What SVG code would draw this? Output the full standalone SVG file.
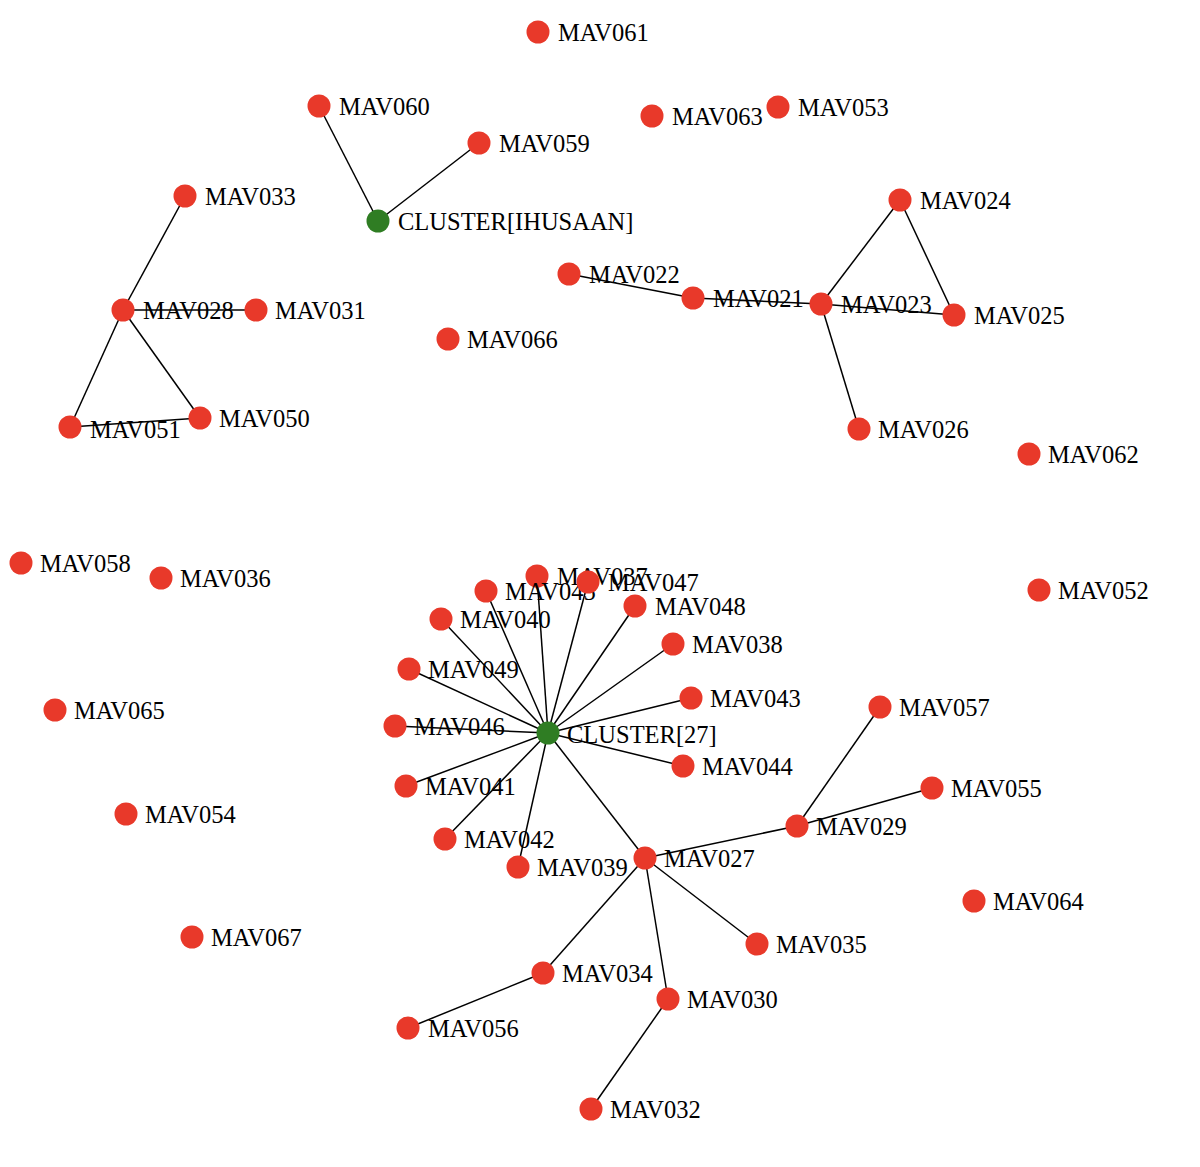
<svg xmlns="http://www.w3.org/2000/svg" width="1200" height="1167" viewBox="0 0 1200 1167">
<style>
.e{stroke:#000;stroke-width:1.5;fill:none}
.n{fill:#E8392A}
.g{fill:#2F7D23}
text{font-family:"Liberation Serif","Times New Roman",serif;font-size:24.5px;fill:#000}
</style>
<rect width="1200" height="1167" fill="#fff"/>
<g id="edges">
<line class="e" x1="378" y1="221" x2="319" y2="106"/>
<line class="e" x1="378" y1="221" x2="479" y2="143"/>
<line class="e" x1="123" y1="310" x2="185" y2="196"/>
<line class="e" x1="123" y1="310" x2="256" y2="310"/>
<line class="e" x1="123" y1="310" x2="70" y2="427"/>
<line class="e" x1="123" y1="310" x2="200" y2="418"/>
<line class="e" x1="70" y1="427" x2="200" y2="418"/>
<line class="e" x1="569" y1="274" x2="693" y2="298"/>
<line class="e" x1="693" y1="298" x2="821" y2="304"/>
<line class="e" x1="821" y1="304" x2="900" y2="200"/>
<line class="e" x1="821" y1="304" x2="954" y2="315"/>
<line class="e" x1="900" y1="200" x2="954" y2="315"/>
<line class="e" x1="821" y1="304" x2="859" y2="429"/>
<line class="e" x1="548" y1="733" x2="537" y2="576"/>
<line class="e" x1="548" y1="733" x2="486" y2="591"/>
<line class="e" x1="548" y1="733" x2="588" y2="582"/>
<line class="e" x1="548" y1="733" x2="635" y2="606"/>
<line class="e" x1="548" y1="733" x2="441" y2="619"/>
<line class="e" x1="548" y1="733" x2="673" y2="644"/>
<line class="e" x1="548" y1="733" x2="409" y2="669"/>
<line class="e" x1="548" y1="733" x2="691" y2="698"/>
<line class="e" x1="548" y1="733" x2="395" y2="726"/>
<line class="e" x1="548" y1="733" x2="683" y2="766"/>
<line class="e" x1="548" y1="733" x2="406" y2="786"/>
<line class="e" x1="548" y1="733" x2="445" y2="839"/>
<line class="e" x1="548" y1="733" x2="518" y2="867"/>
<line class="e" x1="548" y1="733" x2="645" y2="858"/>
<line class="e" x1="645" y1="858" x2="797" y2="826"/>
<line class="e" x1="797" y1="826" x2="880" y2="707"/>
<line class="e" x1="797" y1="826" x2="932" y2="788"/>
<line class="e" x1="645" y1="858" x2="757" y2="944"/>
<line class="e" x1="645" y1="858" x2="543" y2="973"/>
<line class="e" x1="645" y1="858" x2="668" y2="999"/>
<line class="e" x1="543" y1="973" x2="408" y2="1028"/>
<line class="e" x1="668" y1="999" x2="591" y2="1109"/>
</g>
<g id="MAV061"><circle class="n" cx="538" cy="32" r="11.5"/><text x="558" y="41">MAV061</text></g>
<g id="MAV060"><circle class="n" cx="319" cy="106" r="11.5"/><text x="339" y="115">MAV060</text></g>
<g id="MAV059"><circle class="n" cx="479" cy="143" r="11.5"/><text x="499" y="152">MAV059</text></g>
<g id="MAV063"><circle class="n" cx="652" cy="116" r="11.5"/><text x="672" y="125">MAV063</text></g>
<g id="MAV053"><circle class="n" cx="778" cy="107" r="11.5"/><text x="798" y="116">MAV053</text></g>
<g id="MAV033"><circle class="n" cx="185" cy="196" r="11.5"/><text x="205" y="205">MAV033</text></g>
<g id="CLUSTER_IHUSAAN"><circle class="g" cx="378" cy="221" r="11.5"/><text x="398" y="230">CLUSTER[IHUSAAN]</text></g>
<g id="MAV024"><circle class="n" cx="900" cy="200" r="11.5"/><text x="920" y="209">MAV024</text></g>
<g id="MAV022"><circle class="n" cx="569" cy="274" r="11.5"/><text x="589" y="283">MAV022</text></g>
<g id="MAV021"><circle class="n" cx="693" cy="298" r="11.5"/><text x="713" y="307">MAV021</text></g>
<g id="MAV023"><circle class="n" cx="821" cy="304" r="11.5"/><text x="841" y="313">MAV023</text></g>
<g id="MAV025"><circle class="n" cx="954" cy="315" r="11.5"/><text x="974" y="324">MAV025</text></g>
<g id="MAV028"><circle class="n" cx="123" cy="310" r="11.5"/><text x="143" y="319">MAV028</text></g>
<g id="MAV031"><circle class="n" cx="256" cy="310" r="11.5"/><text x="275" y="319">MAV031</text></g>
<g id="MAV066"><circle class="n" cx="448" cy="339" r="11.5"/><text x="467" y="348">MAV066</text></g>
<g id="MAV050"><circle class="n" cx="200" cy="418" r="11.5"/><text x="219" y="427">MAV050</text></g>
<g id="MAV051"><circle class="n" cx="70" cy="427" r="11.5"/><text x="90" y="438">MAV051</text></g>
<g id="MAV026"><circle class="n" cx="859" cy="429" r="11.5"/><text x="878" y="438">MAV026</text></g>
<g id="MAV062"><circle class="n" cx="1029" cy="454" r="11.5"/><text x="1048" y="463">MAV062</text></g>
<g id="MAV058"><circle class="n" cx="21" cy="563" r="11.5"/><text x="40" y="572">MAV058</text></g>
<g id="MAV036"><circle class="n" cx="161" cy="578" r="11.5"/><text x="180" y="587">MAV036</text></g>
<g id="MAV052"><circle class="n" cx="1039" cy="590" r="11.5"/><text x="1058" y="599">MAV052</text></g>
<g id="MAV037"><circle class="n" cx="537" cy="576" r="11.5"/><text x="557" y="585">MAV037</text></g>
<g id="MAV045"><circle class="n" cx="486" cy="591" r="11.5"/><text x="505" y="600">MAV045</text></g>
<g id="MAV047"><circle class="n" cx="588" cy="582" r="11.5"/><text x="608" y="591">MAV047</text></g>
<g id="MAV048"><circle class="n" cx="635" cy="606" r="11.5"/><text x="655" y="615">MAV048</text></g>
<g id="MAV040"><circle class="n" cx="441" cy="619" r="11.5"/><text x="460" y="628">MAV040</text></g>
<g id="MAV038"><circle class="n" cx="673" cy="644" r="11.5"/><text x="692" y="653">MAV038</text></g>
<g id="MAV049"><circle class="n" cx="409" cy="669" r="11.5"/><text x="428" y="678">MAV049</text></g>
<g id="MAV043"><circle class="n" cx="691" cy="698" r="11.5"/><text x="710" y="707">MAV043</text></g>
<g id="MAV065"><circle class="n" cx="55" cy="710" r="11.5"/><text x="74" y="719">MAV065</text></g>
<g id="MAV046"><circle class="n" cx="395" cy="726" r="11.5"/><text x="414" y="735">MAV046</text></g>
<g id="CLUSTER_27"><circle class="g" cx="548" cy="733" r="11.5"/><text x="567" y="743">CLUSTER[27]</text></g>
<g id="MAV057"><circle class="n" cx="880" cy="707" r="11.5"/><text x="899" y="716">MAV057</text></g>
<g id="MAV044"><circle class="n" cx="683" cy="766" r="11.5"/><text x="702" y="775">MAV044</text></g>
<g id="MAV041"><circle class="n" cx="406" cy="786" r="11.5"/><text x="425" y="795">MAV041</text></g>
<g id="MAV055"><circle class="n" cx="932" cy="788" r="11.5"/><text x="951" y="797">MAV055</text></g>
<g id="MAV054"><circle class="n" cx="126" cy="814" r="11.5"/><text x="145" y="823">MAV054</text></g>
<g id="MAV029"><circle class="n" cx="797" cy="826" r="11.5"/><text x="816" y="835">MAV029</text></g>
<g id="MAV042"><circle class="n" cx="445" cy="839" r="11.5"/><text x="464" y="848">MAV042</text></g>
<g id="MAV027"><circle class="n" cx="645" cy="858" r="11.5"/><text x="664" y="867">MAV027</text></g>
<g id="MAV039"><circle class="n" cx="518" cy="867" r="11.5"/><text x="537" y="876">MAV039</text></g>
<g id="MAV064"><circle class="n" cx="974" cy="901" r="11.5"/><text x="993" y="910">MAV064</text></g>
<g id="MAV067"><circle class="n" cx="192" cy="937" r="11.5"/><text x="211" y="946">MAV067</text></g>
<g id="MAV035"><circle class="n" cx="757" cy="944" r="11.5"/><text x="776" y="953">MAV035</text></g>
<g id="MAV034"><circle class="n" cx="543" cy="973" r="11.5"/><text x="562" y="982">MAV034</text></g>
<g id="MAV030"><circle class="n" cx="668" cy="999" r="11.5"/><text x="687" y="1008">MAV030</text></g>
<g id="MAV056"><circle class="n" cx="408" cy="1028" r="11.5"/><text x="428" y="1037">MAV056</text></g>
<g id="MAV032"><circle class="n" cx="591" cy="1109" r="11.5"/><text x="610" y="1118">MAV032</text></g>
</svg>
